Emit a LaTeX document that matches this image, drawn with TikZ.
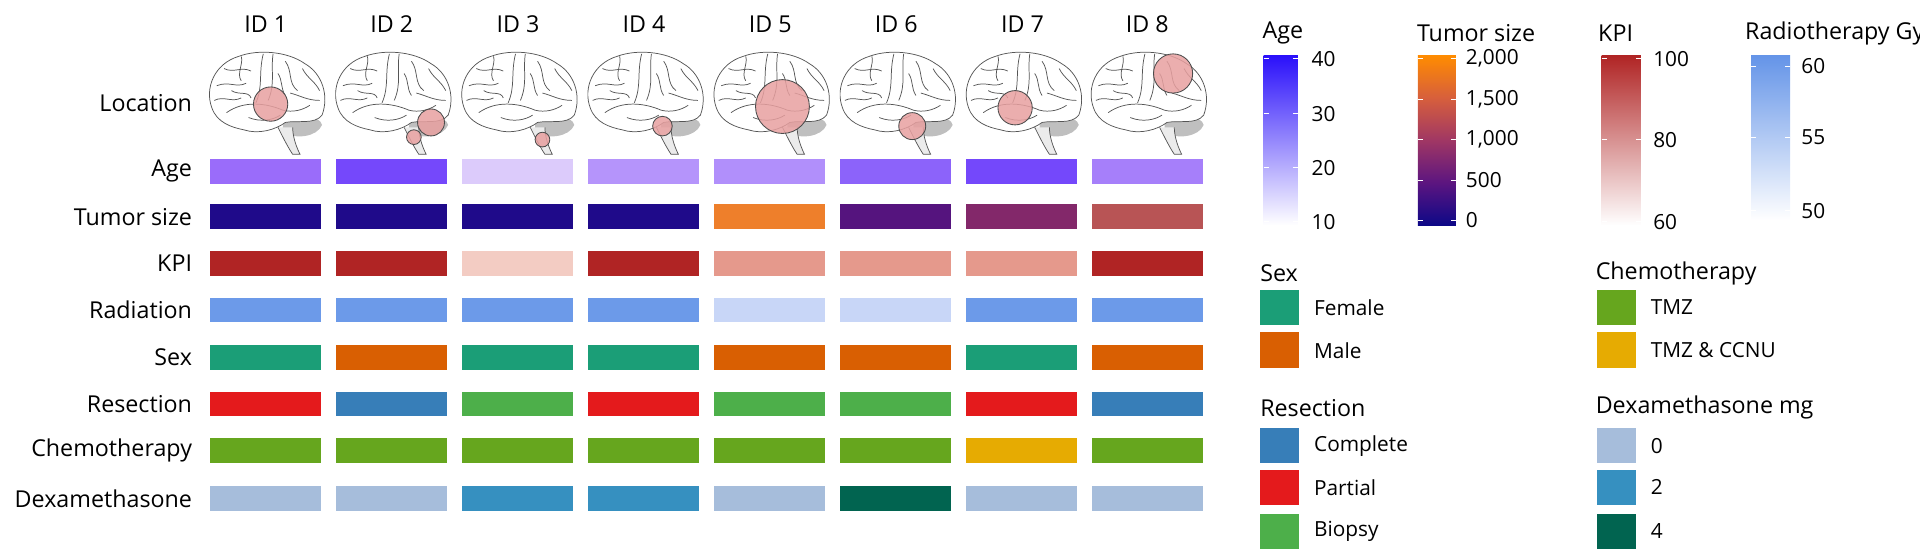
\documentclass[tikz,border=0pt]{standalone}
\usepackage{fontspec}
\setmainfont{Open Sans}
\definecolor{ageA}{HTML}{9A6CFA}\definecolor{ageB}{HTML}{7548FB}\definecolor{ageC}{HTML}{DCCBFB}\definecolor{ageD}{HTML}{B594FB}
\definecolor{ageE}{HTML}{B18FFB}\definecolor{ageF}{HTML}{8C63FA}\definecolor{ageG}{HTML}{7448FB}\definecolor{ageH}{HTML}{A67FFA}
\definecolor{tsD}{HTML}{1F0A8A}\definecolor{tsE}{HTML}{EE7F2B}\definecolor{tsF}{HTML}{55147E}\definecolor{tsG}{HTML}{83286A}\definecolor{tsH}{HTML}{B85455}
\definecolor{kpH}{HTML}{B02424}\definecolor{kpL}{HTML}{F3CCC3}\definecolor{kpM}{HTML}{E5998C}
\definecolor{raH}{HTML}{6C9AE9}\definecolor{raL}{HTML}{C8D6F7}
\definecolor{fem}{HTML}{1B9E77}\definecolor{mal}{HTML}{D95F02}
\definecolor{rC}{HTML}{377EB8}\definecolor{rP}{HTML}{E41A1C}\definecolor{rB}{HTML}{4DAF4A}
\definecolor{cT}{HTML}{66A61E}\definecolor{cC}{HTML}{E6AB02}
\definecolor{d0}{HTML}{A6BDDB}\definecolor{d2}{HTML}{3690C0}\definecolor{d4}{HTML}{016450}
\definecolor{tum}{HTML}{E8A0A0}\definecolor{gyr}{HTML}{555555}
\definecolor{gA}{HTML}{0D0887}\definecolor{gB}{HTML}{5C1580}\definecolor{gC}{HTML}{A03764}\definecolor{gD}{HTML}{D75F3C}\definecolor{gE}{HTML}{FF8C00}
\definecolor{ageT}{HTML}{2A10FA}\definecolor{kpT}{HTML}{B02424}\definecolor{raT}{HTML}{6494E8}
\pgfdeclareverticalshading{ageshade}{100bp}{color(0bp)=(white); color(25bp)=(white); color(75bp)=(ageT); color(100bp)=(ageT)}
\pgfdeclareverticalshading{tsshade}{100bp}{color(0bp)=(gA); color(25bp)=(gA); color(37.5bp)=(gB); color(50bp)=(gC); color(62.5bp)=(gD); color(75bp)=(gE); color(100bp)=(gE)}
\pgfdeclareverticalshading{kpshade}{100bp}{color(0bp)=(white); color(25bp)=(white); color(75bp)=(kpT); color(100bp)=(kpT)}
\pgfdeclareverticalshading{rashade}{100bp}{color(0bp)=(white); color(25bp)=(white); color(75bp)=(raT); color(100bp)=(raT)}
\begin{document}
\begin{tikzpicture}[x=1pt,y=-1pt,
  lab/.style={font=\fontsize{19}{22}\selectfont, inner sep=0pt},
  rowlab/.style={lab, anchor=east},
  cell/.style={minimum width=91pt, minimum height=20pt, inner sep=0pt},
  sw/.style={minimum width=32pt, minimum height=29pt, inner sep=0pt},
  leg/.style={font=\fontsize{17}{20}\selectfont, inner sep=0pt, anchor=west},
  tick/.style={white, line width=0.8pt},
  tumc/.style={fill=tum, fill opacity=0.85, draw=black!70, line width=0.7pt},
  gy/.style={draw=gyr, line width=0.6pt}]
\useasboundingbox (0,0) rectangle (1568,452);
\newcommand{\brainpic}[1]{%
\begin{scope}[shift={(#1,80)}]
 \fill[black!25] (14,18) .. controls (28,14) and (44,14) .. (46,22) .. controls (42,32) and (24,34) .. (14,28) -- cycle;
 \draw[gy, fill=black!8] (10,24) .. controls (14,32) and (18,40) .. (22,46) -- (28,46) .. controls (24,38) and (22,30) .. (22,24);
 \draw[gy, fill=white] (-44,8) .. controls (-50,-8) and (-42,-28) .. (-22,-34) .. controls (-6,-40) and (18,-38) .. (32,-28)
   .. controls (46,-20) and (52,-2) .. (46,14) .. controls (40,22) and (26,18) .. (16,20)
   .. controls (8,26) and (-6,30) .. (-18,26) .. controls (-28,24) and (-40,20) .. (-44,8) -- cycle;
 \draw[gy] (-32,12) .. controls (-18,2) and (0,4) .. (14,10) .. controls (22,12) and (30,10) .. (36,6);
 \draw[gy] (-2,-36) .. controls (-6,-20) and (-2,-10) .. (-8,4);
 \draw[gy] (6,-36) .. controls (4,-22) and (8,-12) .. (2,2);
 \draw[gy] (-40,-10) .. controls (-30,-14) and (-24,-8) .. (-16,-12);
 \draw[gy] (-34,-24) .. controls (-26,-20) and (-20,-26) .. (-12,-22);
 \draw[gy] (-20,-34) .. controls (-18,-28) and (-24,-20) .. (-20,-14);
 \draw[gy] (-42,2) .. controls (-34,-2) and (-28,4) .. (-20,0);
 \draw[gy] (16,-30) .. controls (22,-22) and (18,-12) .. (26,-6);
 \draw[gy] (30,-24) .. controls (34,-16) and (40,-14) .. (44,-6);
 \draw[gy] (20,-4) .. controls (28,-2) and (34,2) .. (44,2);
 \draw[gy] (-14,16) .. controls (-4,20) and (6,18) .. (12,14);
 \draw[gy] (-28,-6) .. controls (-22,-2) and (-14,-6) .. (-12,0);
 \draw[gy] (10,-20) .. controls (14,-14) and (12,-8) .. (16,-2);
\end{scope}}
% headers
\foreach \i/\x in {1/217,2/320,3/423,4/526,5/629,6/732,7/835,8/937}{
  \node[lab] (id\i) at (\x,20) {ID \i};
  \brainpic{\x}
}
\node[rowlab] (rl0) at (157,84) {Location};
% tumors
\draw[tumc] (221,85) circle (14);
\draw[tumc] (352,100) circle (11); \draw[tumc] (338,112) circle (6);
\draw[tumc] (443,114) circle (6);
\draw[tumc] (541,103) circle (8);
\draw[tumc] (639,87) circle (22);
\draw[tumc] (745,103) circle (11);
\draw[tumc] (829,88) circle (14);
\draw[tumc] (958,60) circle (16);
% rows
\foreach \r/\y/\name in {1/140/Age,2/177/Tumor size,3/215/KPI,4/253/Radiation,5/292/Sex,6/330/Resection,7/368/Chemotherapy,8/407/Dexamethasone}
  \node[rowlab] (rl\r) at (157,\y) {\name};
\foreach \r/\y/\cols in {
  1/140/{ageA,ageB,ageC,ageD,ageE,ageF,ageG,ageH},
  2/177/{tsD,tsD,tsD,tsD,tsE,tsF,tsG,tsH},
  3/215/{kpH,kpH,kpL,kpH,kpM,kpM,kpM,kpH},
  4/253/{raH,raH,raH,raH,raL,raL,raH,raH},
  5/292/{fem,mal,fem,fem,mal,mal,fem,mal},
  6/330/{rP,rC,rB,rP,rB,rB,rP,rC},
  7/368/{cT,cT,cT,cT,cT,cT,cC,cT},
  8/407/{d0,d0,d2,d2,d0,d4,d0,d0}}{
  \foreach \c [count=\k] in \cols {
    \pgfmathsetmacro{\xx}{217+(\k-1)*102.9}
    \node[cell, fill=\c] (c\r-\k) at (\xx,\y) {};
  }
}
% continuous legends
\node[lab, anchor=west] (tAge) at (1031,27) {Age};
\shade[shading=ageshade] (1032,45) rectangle (1060,184);
\foreach \v/\y in {40/48,30/93,20/137,10/181}{
  \draw[tick] (1032,\y) -- ++(4,0); \draw[tick] (1060,\y) -- ++(-4,0);
  \node[leg] at (1071,\y) {\v};}
\node[lab, anchor=west] (tTs) at (1157,27) {Tumor size};
\shade[shading=tsshade] (1158,45) rectangle (1189,184);
\foreach \v/\y in {{2,000}/48,{1,500}/81,{1,000}/114,500/147,0/180}{
  \draw[tick] (1158,\y) -- ++(4,0); \draw[tick] (1189,\y) -- ++(-4,0);
  \node[leg] at (1197,\y) {\v};}
\node[lab, anchor=west] (tK) at (1305,27) {KPI};
\shade[shading=kpshade] (1308,45) rectangle (1340,184);
\foreach \v/\y in {100/48,80/114,60/181}{
  \draw[tick] (1308,\y) -- ++(4,0); \draw[tick] (1340,\y) -- ++(-4,0);
  \node[leg] at (1350,\y) {\v};}
\node[lab, anchor=west] (tR) at (1425,27) {Radiotherapy Gy};
\shade[shading=rashade] (1430,45) rectangle (1462,180);
\foreach \v/\y in {60/54,55/112,50/172}{
  \draw[tick] (1430,\y) -- ++(4,0); \draw[tick] (1462,\y) -- ++(-4,0);
  \node[leg] at (1471,\y) {\v};}
% categorical legends
\node[lab, anchor=west] (tSex) at (1029,223) {Sex};
\node[sw, fill=fem, anchor=west] (sF) at (1029,251) {}; \node[leg] at (1073,251) {Female};
\node[sw, fill=mal, anchor=west] (sM) at (1029,286) {}; \node[leg] at (1073,286) {Male};
\node[lab, anchor=west] (tRes) at (1029,333) {Resection};
\node[sw, fill=rC, anchor=west] (sC) at (1029,364) {}; \node[leg] at (1073,364) {Complete};
\node[sw, fill=rP, anchor=west] (sP) at (1029,398) {}; \node[leg] at (1073,398) {Partial};
\node[sw, fill=rB, anchor=west] (sB) at (1029,434) {}; \node[leg] at (1073,434) {Biopsy};
\node[lab, anchor=west] (tCh) at (1303,223) {Chemotherapy};
\node[sw, fill=cT, anchor=west] (sT) at (1304,251) {}; \node[leg] at (1348,251) {TMZ};
\node[sw, fill=cC, anchor=west] (sTC) at (1304,286) {}; \node[leg] at (1348,286) {TMZ \& CCNU};
\node[lab, anchor=west] (tD) at (1303,333) {Dexamethasone mg};
\node[sw, fill=d0, anchor=west] (s0) at (1304,364) {}; \node[leg] at (1348,364) {0};
\node[sw, fill=d2, anchor=west] (s2) at (1304,398) {}; \node[leg] at (1348,398) {2};
\node[sw, fill=d4, anchor=west] (s4) at (1304,434) {}; \node[leg] at (1348,434) {4};
\end{tikzpicture}
\end{document}
